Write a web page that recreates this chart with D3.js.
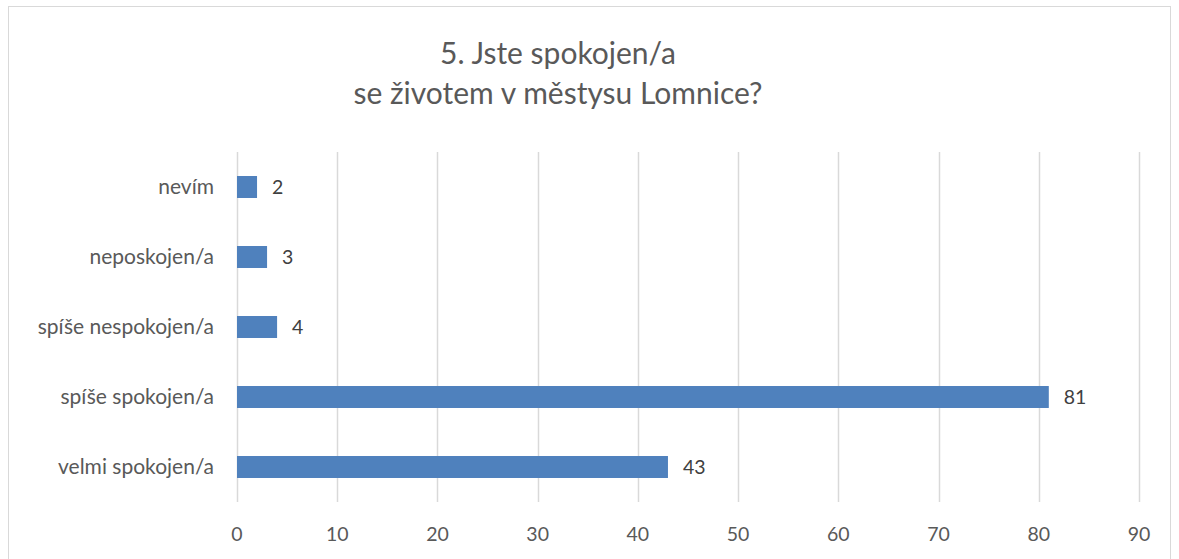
<!DOCTYPE html>
<html>
<head>
<meta charset="utf-8">
<script src="https://cdn.jsdelivr.net/npm/d3@7"></script>
<style>
  body { margin: 0; background: #fff; }
  text { font-family: Lato, "Open Sans", sans-serif; }
</style>
</head>
<body>
<svg id="chart" width="1179" height="559"></svg>
<script>
// chart data
const categories = ["nevím", "neposkojen/a", "spíše nespokojen/a", "spíše spokojen/a", "velmi spokojen/a"];
const values = [2, 3, 4, 81, 43];
const xTicks = [0, 10, 20, 30, 40, 50, 60, 70, 80, 90];
const titleLines = ["5. Jste spokojen/a", "se životem v městysu Lomnice?"];

const svg = d3.select("#chart");

// outer frame (bottom edge falls off the picture)
svg.append("rect")
  .attr("x", 8.5).attr("y", 6.5)
  .attr("width", 1162).attr("height", 600)
  .attr("fill", "none")
  .attr("stroke", "#d9d9d9");

const x = d3.scaleLinear().domain([0, 90]).range([237, 1139]);
const y = d3.scaleBand()
  .domain(categories)
  .range([152, 502])
  .paddingInner(0.686)
  .paddingOuter(0.343);

// gridlines
svg.append("g")
  .selectAll("line")
  .data(xTicks)
  .join("line")
  .attr("x1", d => Math.round(x(d)) + 0.5)
  .attr("x2", d => Math.round(x(d)) + 0.5)
  .attr("y1", 152)
  .attr("y2", 502)
  .attr("stroke", "#d9d9d9")
  .attr("stroke-width", 1.5);

// x tick labels
svg.append("g")
  .selectAll("text")
  .data(xTicks)
  .join("text")
  .attr("x", d => x(d))
  .attr("y", 541)
  .attr("text-anchor", "middle")
  .attr("font-size", 19.5)
  .attr("fill", "#595959")
  .text(d => d);

// category labels
svg.append("g")
  .selectAll("text")
  .data(categories)
  .join("text")
  .attr("x", 214)
  .attr("y", d => y(d) + y.bandwidth() / 2)
  .attr("dy", "0.35em")
  .attr("text-anchor", "end")
  .attr("font-size", 21)
  .attr("fill", "#595959")
  .text(d => d);

// bars
svg.append("g")
  .selectAll("rect")
  .data(values)
  .join("rect")
  .attr("x", x(0))
  .attr("y", (d, i) => y(categories[i]))
  .attr("width", d => x(d) - x(0))
  .attr("height", y.bandwidth())
  .attr("fill", "#4f81bd");

// value labels
svg.append("g")
  .selectAll("text")
  .data(values)
  .join("text")
  .attr("x", d => x(d) + 15)
  .attr("y", (d, i) => y(categories[i]) + y.bandwidth() / 2)
  .attr("dy", "0.35em")
  .attr("font-size", 19.5)
  .attr("fill", "#404040")
  .text(d => d);

// title
svg.append("text")
  .attr("text-anchor", "middle")
  .attr("font-size", 30)
  .attr("fill", "#595959")
  .selectAll("tspan")
  .data(titleLines)
  .join("tspan")
  .attr("x", 558)
  .attr("y", (d, i) => 64 + i * 40)
  .text(d => d);
</script>
</body>
</html>
